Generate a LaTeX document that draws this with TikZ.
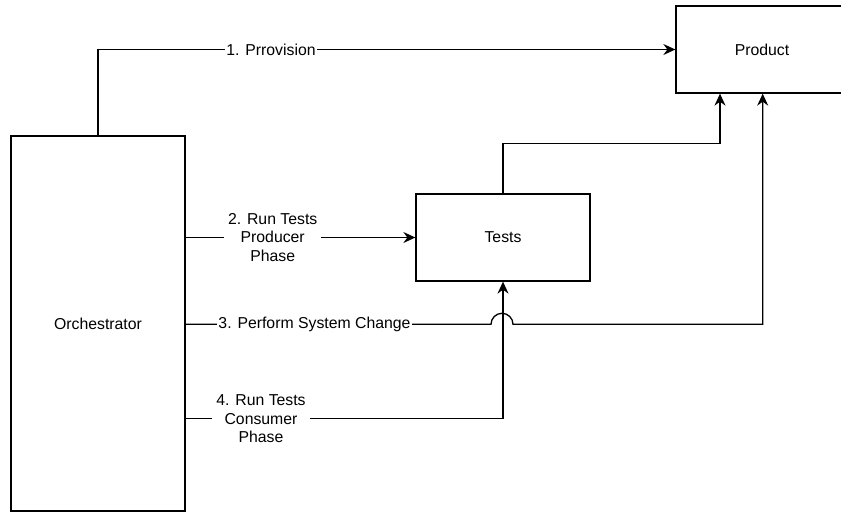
\documentclass[tikz,border=0pt]{standalone}
\usepackage{fontspec}
\setmainfont{Liberation Sans}
\usetikzlibrary{arrows.meta}
\begin{document}
\begin{tikzpicture}[x=1pt,y=-1pt,
  box/.style={draw, line width=1.3pt, fill=white, inner sep=0pt},
  conn/.style={draw, line width=1.3pt},
  arr/.style={conn, -{Stealth[length=12pt,width=11pt,inset=4pt]}},
  lbl/.style={fill=white, inner sep=1.5pt, align=center, font=\fontsize{15.8}{18.3}\selectfont}
]
\useasboundingbox (0,0) rectangle (841,512);
\begin{scope}
\clip (0,0) rectangle (841,512);
\node[box, minimum width=174pt, minimum height=375pt, font=\fontsize{15.8}{18.3}\selectfont] (orch) at (98,323.5) {Orchestrator};
\node[box, minimum width=172pt, minimum height=87pt, font=\fontsize{15.8}{18.3}\selectfont] (prod) at (762,49.5) {Product};
\node[box, minimum width=174pt, minimum height=87pt, font=\fontsize{15.8}{18.3}\selectfont] (tests) at (503,237.5) {Tests};
\end{scope}
\coordinate (pa) at (720,143.7);
\coordinate (c3) at (0,324.3);
\coordinate (hopL) at (491,324.3);
\coordinate (c3r) at (762.7,324.3);
\coordinate (c4) at (0,418.7);
% 1
\draw[arr] (orch.north) |- (prod.west);
\node[lbl] (l1) at (271,49.5) {1. Prrovision};
% 2
\draw[arr] (orch.east |- tests.west) -- (tests.west);
\node[lbl, inner xsep=4pt] (l2) at (272.7,237.5) {2. Run Tests\\Producer\\Phase};
% tests -> product
\draw[arr] (tests.north) |- (pa) -- (pa |- prod.south);
% 3
\draw[arr] (orch.east |- c3) -- (hopL) arc[start angle=180, end angle=0, radius=11pt] -- (c3r) -- (c3r |- prod.south);
\node[lbl] (l3) at (314.5,324.3) {3. Perform System Change};
% 4
\draw[arr] (orch.east |- c4) -| (tests.south);
\node[lbl, inner xsep=4pt] (l4) at (261,418.7) {4. Run Tests\\Consumer\\Phase};
\end{tikzpicture}
\end{document}
